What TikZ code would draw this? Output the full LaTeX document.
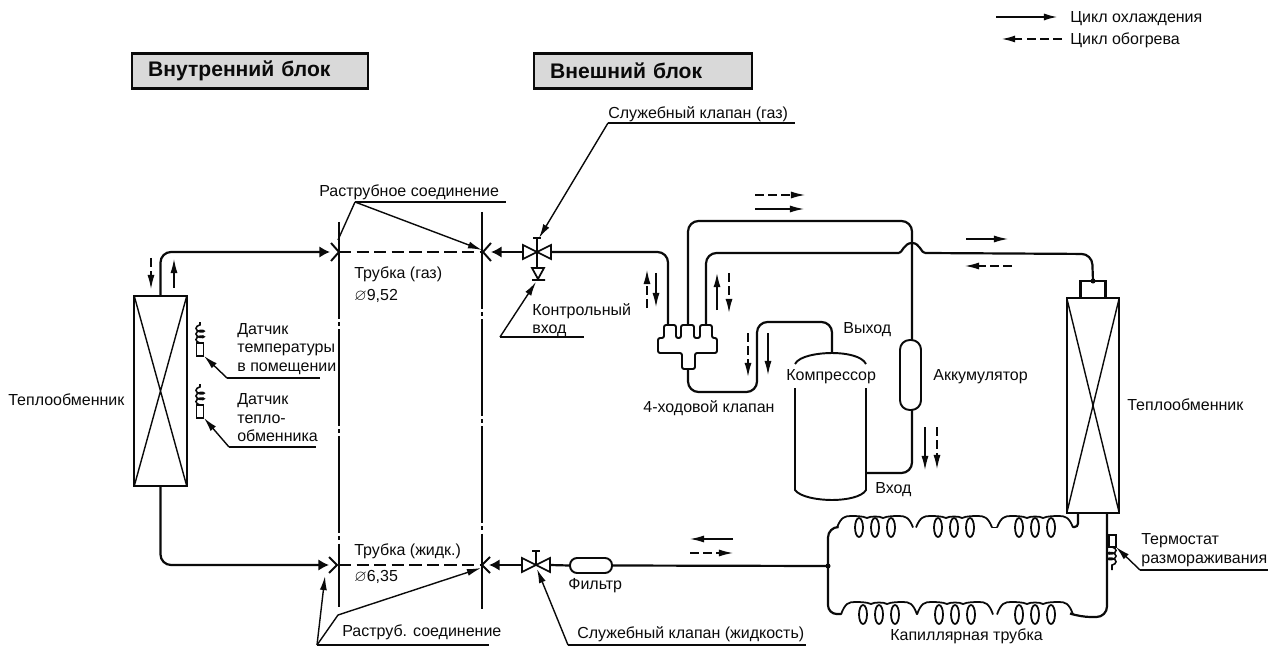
\documentclass[tikz,border=0pt]{standalone}
\usepackage{amssymb}
\usepackage{fontspec}
\setmainfont{Liberation Sans}
\usepackage{tikz}
\usetikzlibrary{arrows.meta,decorations.pathmorphing}
\definecolor{ink}{HTML}{0A0A0A}
\definecolor{hdrfill}{HTML}{D9D9D9}
\tikzset{
  pipe/.style={draw=ink, line width=1.25pt, rounded corners=6pt},
  wire/.style={draw=ink, line width=0.8pt},
  leader/.style={draw=ink, line width=0.8pt, -{Latex[length=8pt,width=4pt]}},
  flow/.style={draw=ink, line width=0.7pt, -{Latex[length=8pt,width=4pt]}},
  dflow/.style={flow, dash pattern=on 5pt off 2.5pt},
  lbl/.style={font=\fontsize{9.1}{10.5}\selectfont, inner sep=0pt, anchor=west, text=ink, align=left},
  hdr/.style={draw=ink, line width=1.3pt, fill=hdrfill, font=\bfseries\fontsize{12}{14}\selectfont, anchor=west, text=ink, minimum height=0.7cm, inner sep=0pt},
  hx/.style={draw=ink, line width=1.25pt, inner sep=0pt, outer sep=0pt, minimum width=1.05cm},
  cline/.style={draw=ink, line width=1.1pt, dash pattern=on 55pt off 2pt on 2pt off 2pt},
  flaretip/.style={pipe, -{Latex[length=6pt,width=6.5pt]}},
  bowtie/.pic={
    \draw[wire,line width=1pt,fill=white] (0,0)--(-14,-7)--(-14,7)--cycle;
    \draw[wire,line width=1pt,fill=white] (0,0)--(14,-7)--(14,7)--cycle;
    \draw[wire,line width=1.1pt] (0,0)--(0,-14) (-4,-14)--(4,-14);
  },
  sensor/.pic={
    \draw[wire,line width=1pt] (-3.5,0) rectangle (3.5,13);
    \draw[wire,line width=0.9pt,decorate,decoration={coil,aspect=0.5,amplitude=2.3pt,segment length=3.2pt}] (0,0)--(0,-21);
  }
}
\newcommand{\coilgroup}[3]{% centre x, arch y, valley y
  \draw[wire,line width=1pt] (#1-38,#3) .. controls (#1-34,#2+1) and (#1-30,#2) .. (#1-24,#2)
    .. controls (#1-20,#2) and (#1-12,#2) .. (#1-8,#2+2)
    .. controls (#1-5,#2) and (#1+5,#2) .. (#1+8,#2+2)
    .. controls (#1+12,#2) and (#1+20,#2) .. (#1+24,#2)
    .. controls (#1+30,#2) and (#1+34,#2+1) .. (#1+38,#3);
  \foreach \dx in {-16,0,16} \draw[wire,line width=1pt] (#1+\dx,#3) ellipse (4 and 9.5);
}
\begin{document}
\begin{tikzpicture}[x=0.02cm,y=-0.02cm]
\useasboundingbox (0,0) rectangle (1280,648);

% header boxes
\node[hdr,minimum width=4.72cm,text width=4.08cm] (indoor) at (131,71) {Внутренний блок};
\node[hdr,minimum width=4.36cm,text width=3.72cm] (outdoor) at (533,71) {Внешний блок};

% legend
\coordinate (legca) at (996,17); \coordinate (legcb) at (1058,17);
\coordinate (legha) at (1062,39); \coordinate (leghb) at (1001,39);
\draw[flow,line width=1.2pt] (legca)--(legcb);
\draw[dflow,line width=1.2pt] (legha)--(leghb);
\node[lbl] (legc) at (1070,19) {Цикл охлаждения};
\node[lbl] (legh) at (1070,40) {Цикл обогрева};

% heat exchangers
\node[hx,minimum height=3.8cm] (hxin) at (160.5,391) {};
\draw[wire] (hxin.north west)--(hxin.south east) (hxin.north east)--(hxin.south west);
\node[lbl] (hxinl) at (8,400) {Теплообменник};
\node[hx,minimum height=4.3cm] (hxout) at (1093,405.5) {};
\draw[wire] (hxout.north west)--(hxout.south east) (hxout.north east)--(hxout.south west);
\node[hx,minimum width=0.5cm,minimum height=0.34cm,anchor=south] (hxcap) at (hxout.north) {};
\node[lbl] (hxoutl) at (1127,405) {Теплообменник};

% sensors on the indoor coil
\pic at (200,343) {sensor};
\pic at (200,405) {sensor};
\coordinate (sens1) at (204,356);
\coordinate (sens1k) at (227,378);
\coordinate (sens1e) at (320,378);
\coordinate (sens2) at (204,418);
\coordinate (sens2k) at (229,447);
\coordinate (sens2e) at (316,447);
\draw[wire] (sens1k)--(sens1e);
\draw[leader] (sens1k)--(sens1);
\draw[wire] (sens2k)--(sens2e);
\draw[leader] (sens2k)--(sens2);
\node[lbl] (sens1l) at (237,349) {Датчик\\температуры\\в помещении};
\node[lbl] (sens2l) at (237,418) {Датчик\\тепло-\\обменника};

% wall lines and field pipes
\draw[cline] (339,222)--(339,607);
\draw[cline] (482,212)--(482,609);
\draw[wire,line width=1.1pt,dash pattern=on 7pt off 3pt] (339,252)--(482,252);
\draw[wire,line width=1.4pt,dash pattern=on 7pt off 3pt] (339,565)--(482,565);
\coordinate (fgl) at (330,252); \coordinate (fgr) at (491,252);
\coordinate (fll) at (329,565); \coordinate (flr) at (489,565);
\draw[flaretip] (hxin.north) |- (fgl);
\draw[flaretip] (hxin.south) |- (fll);
\draw[wire,line width=1.1pt] (331,243)--(339,252)--(331,261) (491,243)--(483,252)--(491,261);
\draw[wire,line width=1.1pt] (329,557)--(337,565)--(329,573) (490,557)--(482,565)--(490,573);

% service valves
\coordinate (svgc) at (537,252);
\coordinate (svlc) at (536,565);
\pic at (svgc) {bowtie};
\pic at (svlc) {bowtie};
\coordinate (svgin) at (523,252); \coordinate (svgout) at (551,252); \coordinate (svlin) at (522,565);
\draw[flaretip] (svgin)--(fgr);
\draw[flaretip] (svlin)--(flr);
\draw[wire,line width=1pt] (537,252)--(537,268) (532,268)--(544,268)--(538,279)--cycle (532,280)--(545,280);

% filter and liquid line
\node[draw=ink,line width=1.1pt,rounded corners=4pt,minimum width=0.84cm,minimum height=0.3cm,inner sep=0pt] (filter) at (591,565.5) {};
\coordinate (jct) at (828,566);
\draw[pipe] (550,565)--(filter.west);
\draw[pipe] (filter.east)--(jct);
\fill[ink] (jct) circle (2.5);
\node[lbl] (filterl) at (568,586) {Фильтр};

% 4-way valve
\draw[wire,line width=1.1pt,rounded corners=1.2pt] (658,353)--(658,338)--(664,338)--(664,325)--(676,325)--(676,338)--(681,338)--(681,325)--(694,325)--(694,338)--(700,338)--(700,325)--(712,325)--(712,338)--(717,338)--(717,353)--(695,353)--(695,369)--(682,369)--(682,353)--cycle;
\coordinate (wvleft) at (668,325); \coordinate (wvmid) at (688,325); \coordinate (wvright) at (706,325); \coordinate (wvdown) at (688,369);
\node[lbl] (wvl) at (643,408) {4-ходовой клапан};

% compressor
\draw[wire,line width=1.1pt] (795,364) .. controls (799,356) and (818,353) .. (832,353) .. controls (846,353) and (862,356) .. (866,364);
\draw[wire,line width=1.1pt] (795,388)--(795,490) .. controls (800,497) and (818,500) .. (832,500) .. controls (846,500) and (862,497) .. (866,490)--(866,388);
\coordinate (cmpout) at (832,353); \coordinate (cmpin) at (866,473);
\node[lbl] (cmpl) at (786,377) {Компрессор};
\node[lbl] (cmpoutl) at (843,330) {Выход};
\node[lbl] (cmpinl) at (875,490) {Вход};

% accumulator
\node[draw=ink,line width=1.1pt,rounded corners=5.5pt,minimum width=0.42cm,minimum height=1.4cm,inner sep=0pt] (acc) at (910.5,375) {};
\coordinate (acctop) at (912,340); \coordinate (accbot) at (912,410);
\node[lbl] (accl) at (933,377) {Аккумулятор};

% refrigerant pipes
\draw[pipe] (svgout)--(668,252)--(wvleft);
\draw[pipe] (wvmid)--(688,221)--(912,221)--(acctop);
\draw[pipe] (wvright)--(706,253)--(899,253);
\draw[wire,line width=1.25pt] (899,253) .. controls (902,253) and (904,243) .. (912,243) .. controls (920,243) and (921,253) .. (925,253);
\draw[pipe] (925,253)--(1092,254)--(hxcap.north);
\fill[ink] (hxcap.north) circle (2.5);
\draw[pipe] (wvdown)--(688,392)--(757,392)--(757,322)--(832,322)--(cmpout);
\draw[pipe] (accbot)--(912,473)--(cmpin);

% capillary tubes
\coordinate (capt) at (1078,513);
\coordinate (capb) at (1107,513);
\coordinate (tsen) at (1116,547);
\coordinate (tsenk) at (1140,570);
\coordinate (tsene) at (1268,570);
\draw[pipe] (jct)--(828,527)--(837,527);
\coilgroup{875}{516}{527.5}
\coilgroup{954}{516}{527.5}
\draw[wire,line width=1pt] (992,527.5)--(997,527.5);
\coilgroup{1035}{516}{527.5}
\draw[pipe,rounded corners=2pt] (1073,527)--(1078,527)--(capt);
\draw[pipe,rounded corners=5pt] (jct)--(828,614)--(841,614);
\coilgroup{879}{602}{614.5}
\coilgroup{955}{602}{614.5}
\coilgroup{1035}{602}{614.5}
\draw[pipe] (1073,614.5)--(1080,617)--(1107,617)--(capb);

% defrost thermostat
\draw[wire,line width=1pt] (1109,535) rectangle (1116,547);
\draw[wire,line width=0.9pt,decorate,decoration={coil,aspect=0.5,amplitude=2.3pt,segment length=3.2pt}] (1112,547)--(1112,570);
\draw[wire] (tsenk)--(tsene);
\draw[leader] (tsenk)--(tsen);
\node[lbl] (tsenl) at (1141,550) {Термостат\\размораживания};

% callouts
\coordinate (fgv) at (355,202);
\coordinate (fge) at (506,202);
\coordinate (flv) at (317,645);
\coordinate (flk) at (338,615);
\coordinate (fle) at (489,645);
\coordinate (svgv) at (608,123);
\coordinate (svge) at (795,123);
\coordinate (svlv) at (568,645);
\coordinate (svle) at (806,645);
\coordinate (ctv) at (500,337);
\coordinate (cte) at (584,337);
\draw[wire] (fgv)--(fge);
\draw[wire] (fgv)--(338,240);
\draw[leader] (fgv)--(482,250);
\node[lbl] (fgl1) at (319,192) {Раструбное соединение};
\draw[wire] (flv)--(fle);
\draw[leader] (flv)--(325,576);
\draw[leader] (flv)--(flk)--(481,568);
\node[lbl] (fll1) at (342,632) {Раструб. соединение};
\draw[wire] (svgv)--(svge);
\draw[leader] (svgv)--(539,238);
\node[lbl] (svgl) at (608,114) {Служебный клапан (газ)};
\draw[wire] (svlv)--(svle);
\draw[leader] (svlv)--(537,569);
\node[lbl] (svll) at (577,634) {Служебный клапан (жидкость)};
\draw[wire] (ctv)--(cte);
\draw[leader] (ctv)--(536,282);
\node[lbl] (ctl) at (532,320) {Контрольный\\вход};

% pipe sizes
\node[lbl] (gasl) at (354,285) {Трубка (газ)\\[2pt]$\varnothing$9,52};
\node[lbl] (liql) at (354,551) {Трубка (жидк.)};
\node[lbl] (liqd) at (354,577) {$\varnothing$6,35};
\node[lbl] (capl) at (890,636) {Капиллярная трубка};

% flow arrows
\draw[dflow] (151,258)--(151,289);
\draw[flow] (174,288)--(174,259);
\draw[dflow] (755,195)--(805,195);
\draw[flow] (755,209)--(804,209);
\draw[dflow] (647,308)--(647,270);
\draw[flow] (656,273)--(656,307);
\draw[flow,line width=0.9pt] (717,310)--(717,273);
\draw[dflow,line width=0.9pt] (729,273)--(729,313);
\draw[dflow,line width=0.9pt] (748,333)--(748,377);
\draw[flow] (768,333)--(768,375);
\draw[flow] (925,427)--(925,470);
\draw[dflow] (937,427)--(937,469);
\draw[flow] (966,239)--(1008,239);
\draw[dflow] (1012,266)--(965,266);
\draw[flow] (733,539)--(690,539);
\draw[dflow] (690,553)--(733,553);
\end{tikzpicture}
\end{document}
